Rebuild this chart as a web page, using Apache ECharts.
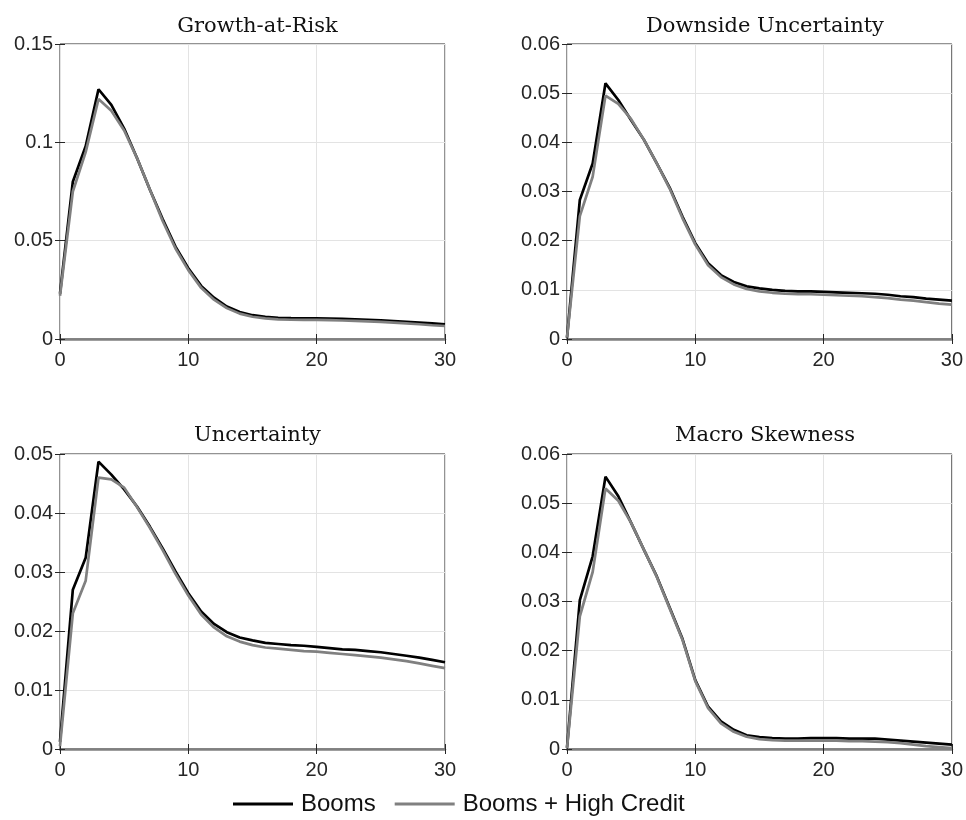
<!DOCTYPE html>
<html>
<head>
<meta charset="utf-8">
<script src="https://cdn.jsdelivr.net/npm/echarts@6/dist/echarts.min.js"></script>
<style>
html,body{margin:0;padding:0;background:#fff;}
#chart{width:966px;height:820px;}
</style>
</head>
<body>
<div id="chart"></div>
<script>
// horizons 0..30
const horizons = Array.from({length: 31}, (_, i) => i);
const panelTitles = ["Growth-at-Risk", "Downside Uncertainty", "Uncertainty", "Macro Skewness"];
const seriesNames = ["Booms", "Booms + High Credit"];
const yMax = [0.15, 0.06, 0.05, 0.06];
const yStep = [0.05, 0.01, 0.01, 0.01];

const garBooms = [0.023,0.080,0.098,0.127,0.119,0.107,0.092,0.076,0.061,0.047,0.036,0.027,0.021,0.0165,0.0137,0.0121,0.0113,0.0108,0.0106,0.0105,0.0105,0.0104,0.0102,0.0100,0.0098,0.0095,0.0091,0.0087,0.0083,0.0079,0.0075];
const garHigh  = [0.022,0.075,0.095,0.122,0.116,0.106,0.092,0.076,0.060,0.046,0.035,0.026,0.020,0.0157,0.0129,0.0113,0.0105,0.0100,0.0098,0.0097,0.0097,0.0096,0.0094,0.0092,0.0090,0.0087,0.0083,0.0079,0.0075,0.0070,0.0066];

const duBooms = [0.0003,0.0283,0.0357,0.0520,0.0486,0.0445,0.0405,0.0357,0.0308,0.0249,0.0195,0.0154,0.0130,0.0116,0.0107,0.0103,0.0100,0.0098,0.0097,0.0097,0.0096,0.0095,0.0094,0.0093,0.0092,0.0090,0.0087,0.0085,0.0082,0.0080,0.0078];
const duHigh  = [0.0003,0.0250,0.0330,0.0495,0.0478,0.0447,0.0405,0.0357,0.0306,0.0246,0.0192,0.0150,0.0126,0.0111,0.0102,0.0097,0.0094,0.0092,0.0091,0.0091,0.0090,0.0089,0.0088,0.0087,0.0085,0.0083,0.0080,0.0078,0.0075,0.0072,0.0070];

const unBooms = [0.0012,0.0270,0.0324,0.0487,0.0465,0.0440,0.0411,0.0377,0.0340,0.0301,0.0264,0.0233,0.0212,0.0198,0.0189,0.0184,0.0180,0.0178,0.0176,0.0175,0.0173,0.0171,0.0169,0.0168,0.0166,0.0164,0.0161,0.0158,0.0155,0.0151,0.0147];
const unHigh  = [0.0005,0.0230,0.0285,0.0460,0.0457,0.0443,0.0410,0.0375,0.0337,0.0297,0.0260,0.0228,0.0206,0.0191,0.0182,0.0176,0.0172,0.0170,0.0168,0.0166,0.0165,0.0163,0.0161,0.0159,0.0157,0.0155,0.0152,0.0149,0.0145,0.0141,0.0137];

const skBooms = [0.0003,0.0303,0.0392,0.0554,0.0514,0.0460,0.0405,0.0351,0.0288,0.0224,0.0140,0.0086,0.0056,0.0039,0.0028,0.0024,0.0022,0.0021,0.0021,0.0022,0.0022,0.0022,0.0021,0.0021,0.0021,0.0019,0.0017,0.0015,0.0013,0.0011,0.0009];
const skHigh  = [0.0002,0.0270,0.0360,0.0530,0.0505,0.0460,0.0405,0.0350,0.0286,0.0222,0.0138,0.0083,0.0052,0.0035,0.0025,0.0020,0.0018,0.0017,0.0017,0.0017,0.0017,0.0017,0.0016,0.0016,0.0015,0.0014,0.0012,0.0009,0.0006,0.0004,0.0002];

const panelData = [[garBooms, garHigh],[duBooms, duHigh],[unBooms, unHigh],[skBooms, skHigh]];

const grids = [
  {left: 60, top: 44, width: 385, height: 295},
  {left: 567, top: 44, width: 386, height: 295},
  {left: 60, top: 454, width: 385, height: 295},
  {left: 567, top: 454, width: 386, height: 295}
];
const titleTops = [11, 11, 420, 420];

const lbl = {fontFamily: 'Liberation Sans', fontSize: 20, color: '#262626'};
const tickStyle = {lineStyle: {color: '#262626', width: 1}};

const option = {
  backgroundColor: '#fff',
  animation: false,
  title: grids.map((g, i) => ({
    text: panelTitles[i],
    left: g.left + g.width / 2,
    top: titleTops[i],
    textAlign: 'center',
    textStyle: {fontFamily: 'DejaVu Serif', fontWeight: 'normal', fontSize: 21, color: '#111'}
  })),
  grid: grids.map(g => Object.assign({show: true, borderColor: '#262626', borderWidth: 1, backgroundColor: '#fff'}, g)),
  legend: {
    data: seriesNames,
    left: 228,
    top: 787,
    icon: 'rect',
    itemWidth: 60,
    itemHeight: 3,
    itemGap: 19,
    textStyle: {fontFamily: 'Liberation Sans', fontSize: 24, color: '#111', padding: [0,0,0,3]}
  },
  xAxis: [],
  yAxis: [],
  series: []
};

for (let i = 0; i < 4; i++) {
  option.xAxis.push({
    type: 'value', gridIndex: i, min: 0, max: 30, interval: 10,
    axisLine: {show: true, onZero: false, lineStyle: {color: '#808080', width: 2.5}},
    axisTick: Object.assign({show: true, inside: true, length: 5}, tickStyle),
    axisLabel: Object.assign({margin: 11}, lbl),
    splitLine: {show: true, lineStyle: {color: '#e3e3e3', width: 1}}
  });
  option.xAxis.push({
    type: 'value', gridIndex: i, position: 'top', min: 0, max: 30, interval: 10,
    axisLine: {show: false},
    axisTick: Object.assign({show: true, inside: true, length: 5}, tickStyle),
    axisLabel: {show: false},
    splitLine: {show: false}
  });
  option.yAxis.push({
    type: 'value', gridIndex: i, min: 0, max: yMax[i], interval: yStep[i],
    axisLine: {show: false},
    axisTick: Object.assign({show: true, inside: true, length: 5}, tickStyle),
    axisLabel: Object.assign({margin: 7}, lbl),
    splitLine: {show: true, lineStyle: {color: '#e3e3e3', width: 1}}
  });
  option.yAxis.push({
    type: 'value', gridIndex: i, position: 'right', min: 0, max: yMax[i], interval: yStep[i],
    axisLine: {show: false},
    axisTick: Object.assign({show: true, inside: true, length: 5}, tickStyle),
    axisLabel: {show: false},
    splitLine: {show: false}
  });
  const [b, h] = panelData[i];
  option.series.push({
    name: seriesNames[0], type: 'line', xAxisIndex: 2 * i, yAxisIndex: 2 * i,
    data: horizons.map((x, k) => [x, b[k]]),
    symbol: 'none', lineStyle: {color: '#000', width: 2.7}, itemStyle: {color: '#000'}, z: 3
  });
  option.series.push({
    name: seriesNames[1], type: 'line', xAxisIndex: 2 * i, yAxisIndex: 2 * i,
    data: horizons.map((x, k) => [x, h[k]]),
    symbol: 'none', lineStyle: {color: '#808080', width: 2.7}, itemStyle: {color: '#808080'}, z: 4
  });
}

const chart = echarts.init(document.getElementById('chart'), null, {renderer: 'canvas'});
chart.setOption(option);
</script>
</body>
</html>
